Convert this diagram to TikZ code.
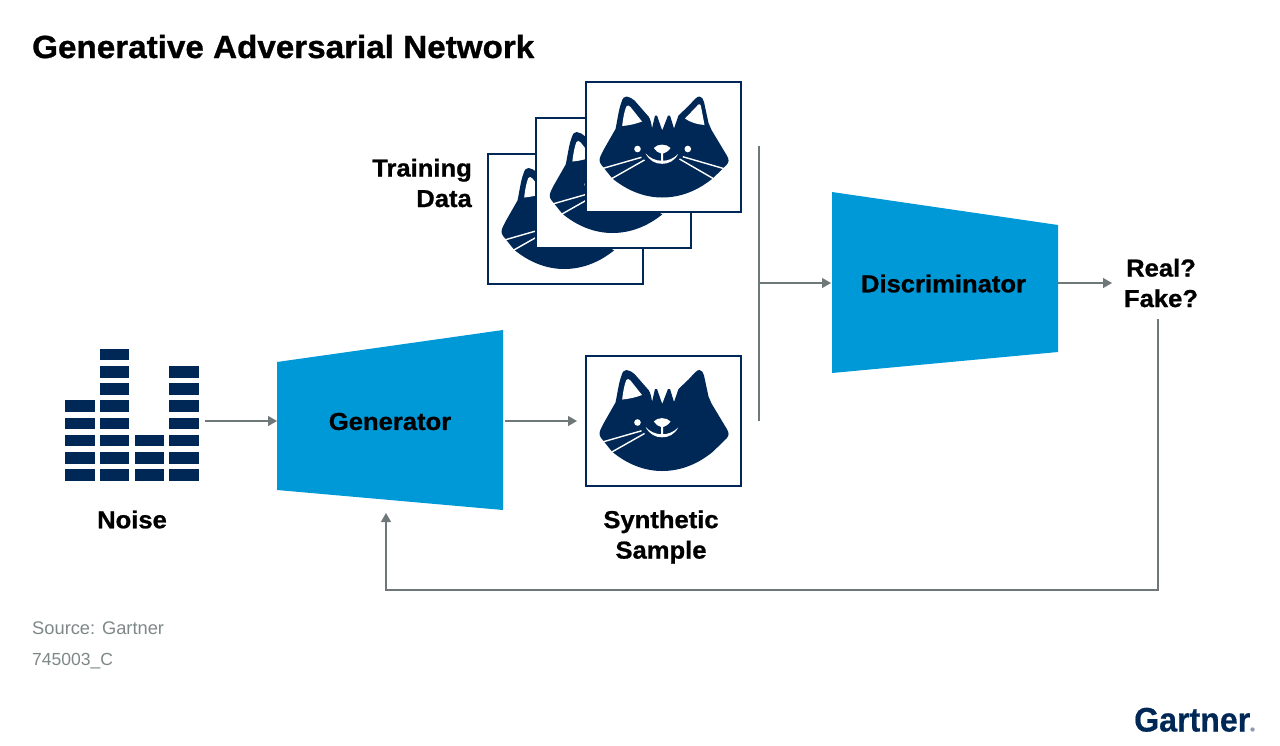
\documentclass[tikz,border=0pt]{standalone}
\usepackage{fontspec}
\setmainfont{Liberation Sans}
\newfontfamily\heavyfam[BoldFeatures={FakeBold=0.9,FakeStretch=1.045}]{Liberation Sans}
\newfontfamily\titlefam[BoldFeatures={FakeBold=0.9,FakeStretch=1.038}]{Liberation Sans}
\newfontfamily\logofam[BoldFeatures={FakeBold=0.5,FakeStretch=0.945}]{Liberation Sans}
\definecolor{navy}{HTML}{002856}
\definecolor{gblue}{HTML}{0099D8}
\definecolor{conn}{HTML}{6F7878}
\definecolor{srcgray}{HTML}{7F8888}
\definecolor{logodot}{HTML}{8C9DB3}
\usetikzlibrary{arrows.meta}
\newcommand{\labelfont}{\fontsize{24.5}{30.5}\selectfont\heavyfam\bfseries}
\tikzset{
  x=1pt,y=-1pt,
  catbox/.style={draw=navy,line width=2pt,fill=white,minimum width=155pt,minimum height=130pt,inner sep=0pt,outer sep=0pt,anchor=north west},
  trap/.style={fill=gblue,draw=none},
  blocklabel/.style={font=\labelfont,text=black,inner sep=0pt},
  textlabel/.style={font=\labelfont,text=black,inner sep=0pt},
  srclabel/.style={text=srcgray,inner sep=0pt,anchor=base west},
  conn/.style={draw=conn,line width=1.3pt},
  connarrow/.style={conn,-{Triangle[length=9pt,width=10pt]}},
  bar/.style={fill=navy,draw=none},
  whisker/.style={draw=white,line width=1.4pt},
  pics/catbase/.style={code={
    \fill[navy] (18,68) -- (30,47) .. controls (32,38) and (33,28) .. (36,20)
      .. controls (37,16) and (39,14.5) .. (41,14.5) .. controls (44,14.5) and (47,17) .. (49,18.5)
      -- (63,34.5) .. controls (65,37) and (66,42) .. (66.5,46.5)
      -- (69.5,33.5) -- (71.5,33.5) -- (76.7,48.5)
      -- (82.5,33.5) -- (84.5,33.5) -- (88.5,46.5)
      -- (93,33.5) -- (103,24) -- (109,17.5)
      .. controls (111,15) and (113,14.5) .. (114,14.5) .. controls (116,14.5) and (118,17) .. (118.5,20)
      -- (123,41) -- (126,48) -- (141,73)
      .. controls (144,77.5) and (143.5,80) .. (141,83) -- (127.3,96.3)
      .. controls (113,108) and (96,115.5) .. (76.7,115.5)
      .. controls (58,115.5) and (41,108) .. (26.7,96.3) -- (16,83)
      .. controls (13.5,80) and (13.5,77) .. (15.5,73) -- cycle;
    \fill[white] (36.7,44) .. controls (37.5,36) and (39,29) .. (40.7,24.7)
      .. controls (41.5,23) and (43.5,23) .. (45,25) -- (56.5,39.5)
      .. controls (50,42) and (43,43.5) .. (36.7,44) -- cycle;
    \fill[white] (52,67) circle (3.3);
    \fill[white] (68.3,66) .. controls (72,61.5) and (81,61.5) .. (85,66)
      .. controls (83,69) and (80,71) .. (77.7,71.5) -- (77.7,79.5) -- (75.7,79.5) -- (75.7,71.5)
      .. controls (73,71) and (70,69) .. (68.3,66) -- cycle;
    \fill[white] (60,71.3) .. controls (64,79) and (70,81.8) .. (76.7,81.8) .. controls (83,81.8) and (89,79) .. (92.7,72)
      .. controls (88,76.5) and (83,78.8) .. (76.7,78.8) .. controls (70,78.8) and (64,76) .. (60,71.3) -- cycle;
    \draw[whisker] (17,86.5) -- (56,75.3);
    \draw[whisker] (25.5,97) -- (59,78);
  }},
  pics/catfull/.style={code={
    \pic {catbase};
    \fill[white] (99.5,36.5) -- (111,24.5) .. controls (113,21.5) and (115,21.5) .. (115.5,24.5)
      -- (119,43) .. controls (112,42.5) and (105,40.5) .. (99.5,36.5) -- cycle;
    \fill[white] (102.3,67) circle (3.3);
    \draw[whisker] (97.3,74.7) -- (139,86.8);
    \draw[whisker] (94,77) -- (128.5,97);
  }},
}
\begin{document}
\begin{tikzpicture}
\useasboundingbox (0,0) rectangle (1280,745);
\fill[white] (0,0) rectangle (1280,745);

% title
\node[font=\fontsize{32}{36}\selectfont\titlefam\bfseries,text=black,inner sep=0pt,anchor=base west] (title) at (32,58) {Generative Adversarial Network};

% noise icon
\foreach \cx/\first in {65.3/3,100/0,134.7/5,169.2/1}{
  \foreach \r in {\first,...,7}{
    \fill[bar] (\cx,348.7+17.2*\r) rectangle ++(29.4,11.6);
  }
}
\coordinate (noiseout) at (205,421);
\node[textlabel] (noise) at (132,519.5) {Noise};

% generator and discriminator
\fill[trap] (277,362) -- (503,330) -- (503,510) -- (277,490) -- cycle;
\node[blocklabel] (gen) at (390,421.5) {Generator};
\coordinate (genin) at (277,421);
\coordinate (genout) at (505,421);
\coordinate (genfb) at (386,513);

\fill[trap] (832,192) -- (1058,225) -- (1058,352) -- (832,373) -- cycle;
\node[blocklabel] (disc) at (943.5,283.5) {Discriminator};
\coordinate (discin) at (831,283);
\coordinate (discout) at (1058,283);

% training data
\node[catbox] (t3) at (487.5,153.5) {};
\pic at (t3.north west) {catfull};
\node[catbox] (t2) at (535.7,117.5) {};
\pic at (t2.north west) {catfull};
\node[catbox] (t1) at (585.5,82) {};
\pic at (t1.north west) {catfull};
\node[textlabel,align=right,anchor=east] (train) at (472,183) {Training\\Data};

% synthetic sample
\node[catbox] (syn) at (585.5,355.5) {};
\pic at (syn.north west) {catbase};
\coordinate (synin) at (577,421);
\node[textlabel,align=center] (synl) at (661,537) {Synthetic\\Sample};

% real or fake
\node[textlabel,align=center] (rf) at (1161,283) {Real?\\Fake?};
\coordinate (rfin) at (1112,283);
\coordinate (rfout) at (1158,319);

% connectors
\coordinate (jt) at (759,146);
\coordinate (jb) at (759,421);
\coordinate (jm) at (759,283);
\draw[connarrow] (noiseout) -- (genin);
\draw[connarrow] (genout) -- (synin);
\draw[conn] (jt) -- (jb);
\draw[connarrow] (jm) -- (discin);
\draw[connarrow] (discout) -- (rfin);
\coordinate (fbcornerA) at (1158,590);
\coordinate (fbcornerB) at (386,590);
\draw[connarrow] (rfout) -- (fbcornerA) -- (fbcornerB) -- (genfb);

% source
\node[srclabel,font=\fontsize{18.3}{20}\selectfont] (src) at (32,634) {Source: Gartner};
\node[srclabel,font=\fontsize{17.5}{20}\selectfont] (code) at (32,665) {745003\_C};

% logo
\node[font=\fontsize{34}{40}\selectfont\logofam\bfseries,text=navy,inner sep=0pt,anchor=base west] (logo) at (1134,731.5) {Gartner};
\fill[logodot] (1252.5,729.5) circle (2.2);
\end{tikzpicture}
\end{document}
